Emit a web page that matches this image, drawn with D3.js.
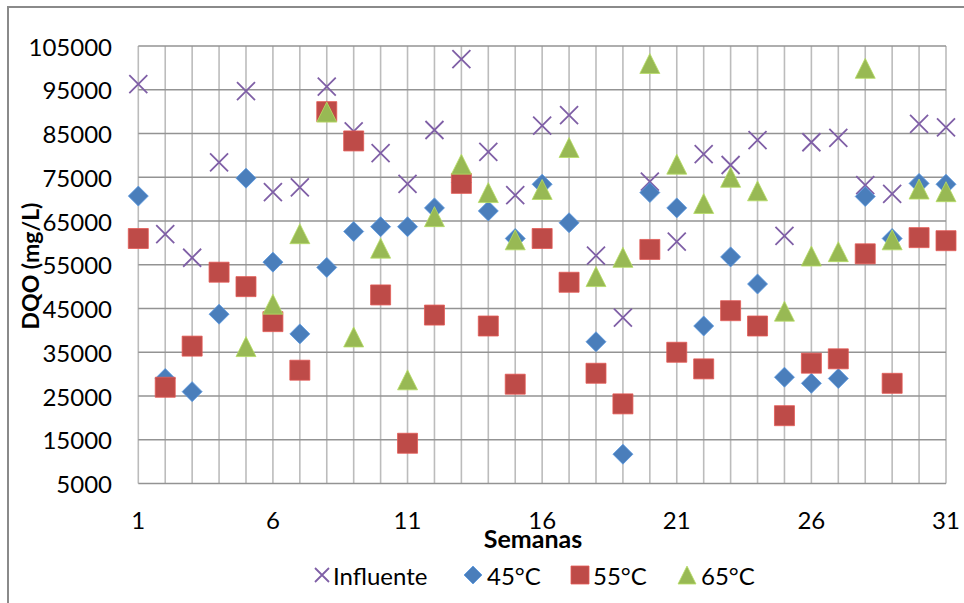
<!DOCTYPE html>
<html>
<head>
<meta charset="utf-8">
<script src="https://cdn.jsdelivr.net/npm/d3@7"></script>
<style>
  html, body { margin: 0; padding: 0; background: #fff; }
  svg { display: block; }
  text { font-family: Lato, "Open Sans", "Liberation Sans", sans-serif; fill: #000; }
</style>
</head>
<body>
<svg id="chart" width="964" height="603"></svg>
<script>
// ---- data ----
const weeks = d3.range(1, 32);
const influente = [96300, 62000, 56600, 78400, 94700, 71600, 72700, 95700, 85500, 80500,
                   73500, 85800, 102000, 80800, 70900, 86800, 89200, 57100, 42900, 74000,
                   60300, 80300, 77800, 83500, 61600, 83000, 84000, 73200, 71200, 87200, 86400];
const t45 = [70700, 29000, 26000, 43700, 74800, 55600, 39200, 54400, 62600, 63700,
             63700, 68000, 73800, 67300, 61000, 73400, 64600, 37400, 11700, 71500,
             68000, 41000, 56800, 50600, 29300, 27900, 29000, 70600, 61000, 73600, 73400];
const t55 = [61000, 27000, 36400, 53300, 50000, 42000, 30900, 90000, 83300, 48100,
             14200, 43500, 73600, 41000, 27700, 61000, 51000, 30200, 23200, 58500,
             35000, 31200, 44500, 41000, 20500, 32500, 33500, 57500, 27900, 61200, 60500];
const t65 = [null, null, null, null, 36300, 46000, 62100, 89900, 38500, 58800,
             28700, 66000, 78000, 71500, 60700, 72200, 81800, 52300, 56700, 101000,
             78000, 69000, 75000, 71900, 44400, 57000, 58000, 99900, 60700, 72300, 71700];
const yTicks = d3.range(5000, 105001, 10000);
const xTicks = [1, 6, 11, 16, 21, 26, 31];
const seriesNames = ["Influente", "45°C", "55°C", "65°C"];

// ---- drawing ----
const svg = d3.select("#chart");
const x = d3.scaleLinear().domain([1, 31]).range([138.3, 946]);
const y = d3.scaleLinear().domain([5000, 105000]).range([483.5, 46]);

// outer chart frame
svg.append("path").attr("d", "M8,610 L8,7 L970,7")
  .attr("fill", "none").attr("stroke", "#8a8a8a").attr("stroke-width", 2);

// vertical gridlines
svg.append("g").selectAll("line").data(weeks).join("line")
  .attr("x1", d => x(d)).attr("x2", d => x(d))
  .attr("y1", y(105000)).attr("y2", y(5000))
  .attr("stroke", "#bcbcbc").attr("stroke-width", 1.6);
// horizontal gridlines
svg.append("g").selectAll("line").data(yTicks).join("line")
  .attr("x1", x(1)).attr("x2", x(31))
  .attr("y1", d => y(d)).attr("y2", d => y(d))
  .attr("stroke", "#939393").attr("stroke-width", 1.6);

// y tick labels
svg.append("g").selectAll("text").data(yTicks).join("text")
  .attr("x", 112).attr("y", d => y(d))
  .attr("text-anchor", "end").attr("dominant-baseline", "central")
  .style("font-size", "24px").text(d => d);
// x tick labels
svg.append("g").selectAll("text").data(xTicks).join("text")
  .attr("x", d => x(d)).attr("y", 519)
  .attr("text-anchor", "middle").attr("dominant-baseline", "central")
  .style("font-size", "24px").text(d => d);

// axis titles
svg.append("text").attr("x", 533).attr("y", 538)
  .attr("text-anchor", "middle").attr("dominant-baseline", "central")
  .style("font-size", "25px").style("font-weight", "bold").text("Semanas");
svg.append("text").attr("transform", "translate(30,266) rotate(-90)")
  .attr("text-anchor", "middle").attr("dominant-baseline", "central")
  .style("font-size", "23px").style("font-weight", "bold").text("DQO (mg/L)");

// marker shapes
const shapes = {
  x: s => `M${-s},${-s}L${s},${s}M${-s},${s}L${s},${-s}`,
  diamond: s => `M0,${-s}L${s},0L0,${s}L${-s},0Z`,
  square: s => `M${-s},${-s}H${s}V${s}H${-s}Z`,
  triangle: s => `M0,${-s}L${s},${s}L${-s},${s}Z`
};
const series = [
  { name: seriesNames[0], values: influente, shape: "x", size: 9, color: "#7f5fa6" },
  { name: seriesNames[1], values: t45, shape: "diamond", size: 10, color: "#4a7ebb" },
  { name: seriesNames[2], values: t55, shape: "square", size: 10, color: "#be4b48" },
  { name: seriesNames[3], values: t65, shape: "triangle", size: 10, color: "#98b954" }
];

function styleMark(sel, s) {
  if (s.shape === "x") {
    sel.attr("fill", "none").attr("stroke", s.color).attr("stroke-width", 1.8);
  } else {
    sel.attr("fill", s.color).attr("stroke", d3.color(s.color).brighter(0.5)).attr("stroke-width", 0.8);
  }
}

series.forEach(s => {
  const pts = weeks.map((w, i) => ({ w, v: s.values[i] })).filter(d => d.v != null);
  const g = svg.append("g");
  g.selectAll("path").data(pts).join("path")
    .attr("transform", d => `translate(${x(d.w)},${y(d.v)})`)
    .attr("d", shapes[s.shape](s.size))
    .call(sel => styleMark(sel, s));
});

// legend
const legendPos = [{ m: 322, t: 333 }, { m: 473, t: 487 }, { m: 580, t: 593 }, { m: 687, t: 701 }];
const lg = svg.append("g");
series.forEach((s, i) => {
  const sz = s.shape === "x" ? 7 : 9;
  lg.append("path")
    .attr("transform", `translate(${legendPos[i].m},575)`)
    .attr("d", shapes[s.shape](sz))
    .call(sel => styleMark(sel, s));
  lg.append("text").attr("x", legendPos[i].t).attr("y", 575)
    .attr("dominant-baseline", "central")
    .style("font-size", "24px").text(s.name);
});
</script>
</body>
</html>
